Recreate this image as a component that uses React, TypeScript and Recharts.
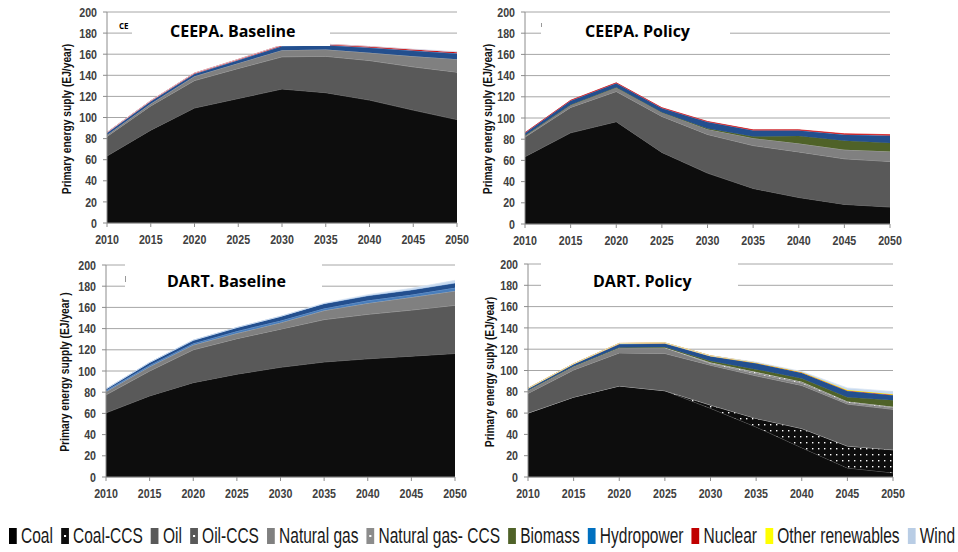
import { AreaChart, Area, XAxis, YAxis, CartesianGrid } from 'recharts';

const years = ['2010', '2015', '2020', '2025', '2030', '2035', '2040', '2045', '2050'];
const yTicks = [0, 20, 40, 60, 80, 100, 120, 140, 160, 180, 200];

// CEEPA. Baseline
const ceepaBaseCoal = [63.5, 88, 109, 118, 127, 123.5, 116.5, 107, 98];
const ceepaBaseOil = [18.5, 23, 26, 28.5, 30.5, 34.5, 37.5, 41, 45];
const ceepaBaseGas = [1.5, 2, 4, 5, 6.3, 6.4, 7.3, 10, 12.3];
const ceepaBaseHydro = [2, 2.5, 2.5, 3, 4, 4.3, 5, 5.5, 5.5];
const ceepaBaseNuclear = [0.4, 0.4, 0.6, 0.6, 0.8, 0.8, 0.9, 0.9, 1];
const ceepaBaseWind = [0, 0, 0, 0, 0, 0, 0.2, 0.4, 0.6];

// CEEPA. Policy
const ceepaPolCoal = [63.5, 86, 96.5, 67.5, 48, 33.5, 25, 18.5, 16];
const ceepaPolOil = [18.5, 24, 28.5, 34, 36.5, 40.5, 43, 43, 43];
const ceepaPolGas = [1.5, 2.5, 4, 4, 5, 7, 8, 8.5, 9.5];
const ceepaPolBiomass = [0, 0, 0, 0, 0.5, 1.5, 7, 8.5, 8];
const ceepaPolHydro = [2.5, 4, 4, 4, 6.5, 6, 5.5, 6, 7];
const ceepaPolNuclear = [0.2, 0.2, 0.2, 0.2, 0.2, 0.3, 0.4, 0.6, 0.8];

// DART. Baseline
const dartBaseCoal = [60.5, 76.5, 89, 97, 103.5, 108.5, 111.5, 114, 116.5];
const dartBaseOil = [17, 23.5, 31, 33.5, 36, 40, 42, 43.5, 45.5];
const dartBaseGas = [3, 4, 4.5, 5, 6, 8.5, 10.5, 12, 13.5];
const dartBaseHydroLow = [1, 1.5, 1.5, 2, 2, 2, 2.5, 2.5, 3];
const dartBaseHydro = [1.5, 2.5, 3, 3.5, 4, 4.5, 4.5, 4.5, 4.5];
const dartBaseWind = [0, 0, 0, 0, 0, 0.5, 1, 1.5, 2.5];

// DART. Policy
const dartPolCoal = [60, 75, 85.5, 81, 64.5, 47, 27.5, 8.5, 4];
const dartPolCoalCcs = [0, 0, 0, 0, 3, 8, 18, 20.5, 21.5];
const dartPolOil = [18.5, 25.5, 31, 35, 37.5, 40, 40.5, 39.5, 38];
const dartPolGas = [3, 3.5, 5, 5.5, 1.5, 2, 2, 1.5, 1.5];
const dartPolGasCcs = [0, 0, 0, 0, 1, 1.5, 1.5, 1, 1];
const dartPolBiomass = [0, 0, 0, 0.5, 1.5, 2.5, 3, 4, 6];
const dartPolHydro = [1.5, 2, 3.5, 3.5, 4.5, 6, 5.5, 6, 5];
const dartPolNuclear = [0.3, 0.3, 0.4, 0.4, 0.3, 0.3, 0.3, 0.3, 0.3];
const dartPolOther = [0, 0, 0, 0, 0, 0, 0, 0.3, 0.5];
const dartPolWind = [0, 0, 0, 0, 0, 0.5, 0.8, 2, 2.5];

const legendLabels = ['Coal', 'Coal-CCS', 'Oil', 'Oil-CCS', 'Natural gas', 'Natural gas- CCS', 'Biomass', 'Hydropower', 'Nuclear', 'Other renewables', 'Wind'];
const legendColors = ['#000000', '#0d0d0d', '#595959', '#595959', '#808080', '#8c8c8c', '#4f6228', '#0070c0', '#c00000', '#ffff00', '#b9cde5'];
const legendDotted = [false, true, false, true, false, true, false, false, false, false, false];

const SANS = '"Liberation Sans", Arial, sans-serif';

const STYLE: Record<string, { fill: string; stroke: string }> = {
  coal: { fill: '#0d0d0d', stroke: '#6a6a6a' },
  coalCcs: { fill: 'url(#dotsBlack)', stroke: '#bfbfbf' },
  oil: { fill: '#595959', stroke: '#a0a0a0' },
  gas: { fill: '#808080', stroke: '#a6a6a6' },
  gasCcs: { fill: 'url(#dotsGray)', stroke: '#d0d0d0' },
  biomass: { fill: '#4f6228', stroke: '#4f6228' },
  hydroLow: { fill: '#4a7ebb', stroke: '#6f9bd2' },
  hydro: { fill: '#234f8e', stroke: '#7fa6d8' },
  nuclear: { fill: '#c00000', stroke: '#e02020' },
  other: { fill: '#ffff00', stroke: '#ffff00' },
  wind: { fill: '#c6d9ef', stroke: '#dbe6f4' },
};

function build(series: Record<string, number[]>) {
  return years.map((year, i) => {
    const row: Record<string, number | string> = { year };
    Object.keys(series).forEach((k) => (row[k] = series[k][i]));
    return row;
  });
}

const panels = [
  {
    id: 'cb',
    title: 'CEEPA. Baseline',
    ylabel: 'Primary energy suply (EJ/year)',
    plot: { left: 107, top: 12, right: 457, bottom: 223 },
    labelX: 67,
    box: { left: 132, top: 19, width: 198, height: 27 },
    titleAt: { left: 170, top: 21 },
    series: { coal: ceepaBaseCoal, oil: ceepaBaseOil, gas: ceepaBaseGas, hydro: ceepaBaseHydro, nuclear: ceepaBaseNuclear, wind: ceepaBaseWind },
  },
  {
    id: 'cp',
    title: 'CEEPA. Policy',
    ylabel: 'Primary energy suply (EJ/year)',
    plot: { left: 525, top: 12, right: 890, bottom: 224 },
    labelX: 488,
    box: { left: 541, top: 19, width: 189, height: 27 },
    titleAt: { left: 585, top: 21 },
    series: { coal: ceepaPolCoal, oil: ceepaPolOil, gas: ceepaPolGas, biomass: ceepaPolBiomass, hydro: ceepaPolHydro, nuclear: ceepaPolNuclear },
  },
  {
    id: 'db',
    title: 'DART. Baseline',
    ylabel: 'Primary energy supply (EJ/year )',
    plot: { left: 106, top: 265, right: 455, bottom: 477 },
    labelX: 65,
    box: { left: 125, top: 259, width: 197, height: 35 },
    titleAt: { left: 167, top: 271 },
    series: { coal: dartBaseCoal, oil: dartBaseOil, gas: dartBaseGas, hydroLow: dartBaseHydroLow, hydro: dartBaseHydro, wind: dartBaseWind },
  },
  {
    id: 'dp',
    title: 'DART. Policy',
    ylabel: 'Primary energy suply (EJ/year)',
    plot: { left: 528, top: 264, right: 893, bottom: 477 },
    labelX: 490,
    box: { left: 541, top: 258, width: 197, height: 36 },
    titleAt: { left: 593, top: 271 },
    series: {
      coal: dartPolCoal, coalCcs: dartPolCoalCcs, oil: dartPolOil, gas: dartPolGas, gasCcs: dartPolGasCcs,
      biomass: dartPolBiomass, hydro: dartPolHydro, nuclear: dartPolNuclear, other: dartPolOther, wind: dartPolWind,
    },
  },
];

// narrow, bold tick text (squeezed horizontally like the original)
const NarrowTick = (props: any) => {
  const { x, y, payload, textAnchor, vertical } = props;
  return (
    <g transform={`translate(${x},${y})`}>
      <text
        transform="scale(0.82,1)"
        textAnchor={textAnchor}
        dy={vertical ? '0.355em' : '0.71em'}
        fill="#404040"
        fontSize={13}
        fontWeight="bold"
        fontFamily={SANS}
      >
        {payload.value}
      </text>
    </g>
  );
};

function Panel({ p }: { p: (typeof panels)[number] }) {
  const { left, top, right, bottom } = p.plot;
  const data = build(p.series);
  const keys = Object.keys(p.series);
  return (
    <>
      <div style={{ position: 'absolute', left: left - 60, top: top - 10 }}>
        <AreaChart width={right - left + 85} height={bottom - top + 38} data={data} margin={{ top: 10, right: 25, bottom: 0, left: 10 }}>
          <defs>
            <pattern id="dotsBlack" width="6" height="6" patternUnits="userSpaceOnUse">
              <rect width="6" height="6" fill="#0d0d0d" />
              <rect x="2" y="2" width="1.4" height="1.4" fill="#ffffff" />
            </pattern>
            <pattern id="dotsGray" width="5" height="3" patternUnits="userSpaceOnUse">
              <rect width="5" height="3" fill="#8c8c8c" />
              <rect x="1" y="1" width="1.3" height="1.3" fill="#ffffff" />
            </pattern>
          </defs>
          <CartesianGrid vertical={false} stroke="#a6a6a6" />
          <XAxis
            dataKey="year"
            interval={0}
            height={28}
            tickSize={4}
            tickMargin={8}
            axisLine={{ stroke: '#8c8c8c' }}
            tickLine={{ stroke: '#8c8c8c' }}
            tick={<NarrowTick />}
          />
          <YAxis
            domain={[0, 200]}
            ticks={yTicks}
            interval={0}
            width={50}
            tickSize={4}
            tickMargin={6}
            axisLine={{ stroke: '#8c8c8c' }}
            tickLine={{ stroke: '#8c8c8c' }}
            tick={<NarrowTick vertical />}
          />
          {keys.map((k) => (
            <Area
              key={k}
              type="linear"
              dataKey={k}
              stackId="s"
              fill={STYLE[k].fill}
              fillOpacity={1}
              stroke={STYLE[k].stroke}
              strokeWidth={0.8}
              dot={false}
              activeDot={false}
              isAnimationActive={false}
            />
          ))}
        </AreaChart>
      </div>
      <div style={{ position: 'absolute', background: '#fff', ...p.box }} />
      <div
        style={{
          position: 'absolute',
          left: p.titleAt.left,
          top: p.titleAt.top,
          lineHeight: '20px',
          fontSize: 16,
          fontWeight: 'bold',
          fontFamily: '"Open Sans", sans-serif',
          color: '#000',
          whiteSpace: 'nowrap',
        }}
      >
        {p.title}
      </div>
      <div
        style={{
          position: 'absolute',
          left: p.labelX,
          top: (top + bottom) / 2 + 1,
          transform: 'translate(-50%, -50%) rotate(-90deg) scaleX(0.82)',
          fontSize: 12.5,
          fontWeight: 'bold',
          fontFamily: SANS,
          color: '#111',
          whiteSpace: 'nowrap',
        }}
      >
        {p.ylabel}
      </div>
    </>
  );
}

function Legend() {
  return (
    <div style={{ position: 'absolute', left: 9, top: 522, width: 946, height: 28 }}>
      <div
        style={{
          width: 1342,
          height: 28,
          display: 'flex',
          justifyContent: 'space-between',
          alignItems: 'center',
          transform: 'scaleX(0.705)',
          transformOrigin: 'left center',
          fontFamily: SANS,
          fontSize: 22,
          color: '#1a1a1a',
        }}
      >
        {legendLabels.map((label, i) => (
          <div key={label} style={{ display: 'flex', alignItems: 'center', whiteSpace: 'nowrap' }}>
            <div
              style={{
                width: 11,
                height: 16,
                marginRight: 6,
                background: legendColors[i],
                display: 'flex',
                alignItems: 'center',
                justifyContent: 'center',
              }}
            >
              {legendDotted[i] && <div style={{ width: 3, height: 2, background: '#fff' }} />}
            </div>
            <span>{label}</span>
          </div>
        ))}
      </div>
    </div>
  );
}

export default function App() {
  return (
    <div style={{ position: 'absolute', left: 0, top: 0, width: 958, height: 552, background: '#fff' }}>
      {panels.map((p) => (
        <Panel key={p.id} p={p} />
      ))}
      <div style={{ position: 'absolute', left: 119, top: 20, fontSize: 8, fontWeight: 'bold', fontFamily: '"Open Sans", sans-serif' }}>CE</div>
      <div style={{ position: 'absolute', left: 541, top: 23, width: 1, height: 4, background: '#999' }} />
      <div style={{ position: 'absolute', left: 125, top: 276, width: 1, height: 6, background: '#999' }} />
      <Legend />
    </div>
  );
}
